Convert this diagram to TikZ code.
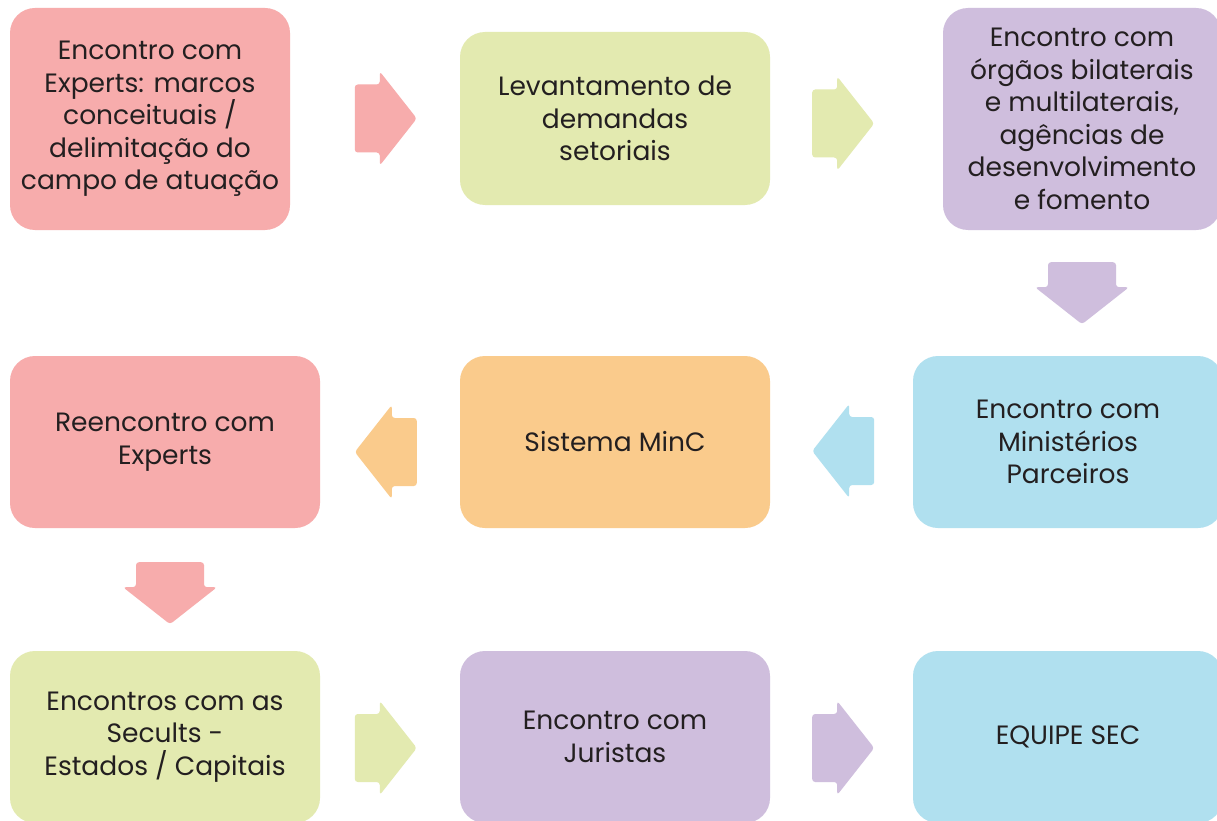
\documentclass[tikz,border=0pt]{standalone}
\usepackage{fontspec}
\setmainfont{Poppins}
\usetikzlibrary{calc}

\definecolor{pinkbox}{RGB}{247,172,172}
\definecolor{greenbox}{RGB}{227,234,176}
\definecolor{purplebox}{RGB}{207,190,221}
\definecolor{orangebox}{RGB}{250,203,140}
\definecolor{bluebox}{RGB}{176,224,239}
\definecolor{textgray}{RGB}{35,31,32}

\tikzset{
  stage/.style={rounded corners=25pt, inner sep=0pt, align=center, text=textgray,
    minimum width=310pt, minimum height=172pt,
    font=\fontsize{26.5}{32.5}\selectfont},
  blockarrow/.pic={
    \path[pic actions, rounded corners=3pt] (-31,-34) -- (-6,-34) -- (-6,-47) -- (31,0)
      -- (-6,47) -- (-6,34) -- (-31,34) -- cycle;
  }
}

\begin{document}
\begin{tikzpicture}[x=1pt, y=-1pt]

\path[use as bounding box, clip] (0,0) rectangle (1217,821);
\fill[white] (0,0) rectangle (1217,821);

\node[stage, fill=pinkbox, minimum width=280pt, minimum height=222pt] (expA) at (150,119)
  {Encontro com\\Experts: marcos\\conceituais /\\delimitação do\\campo de atuação};
\node[stage, fill=greenbox, minimum height=173pt] (demandas) at (615,118.5)
  {Levantamento de\\demandas\\setoriais};
\node[stage, fill=purplebox, minimum width=278pt, minimum height=222pt] (orgaos) at (1082,119)
  {Encontro com\\órgãos bilaterais\\e multilaterais,\\agências de\\desenvolvimento\\e fomento};

\node[stage, fill=pinkbox] (expB) at (165,442) {Reencontro com\\Experts};
\node[stage, fill=orangebox] (minc) at (615,442) {Sistema MinC};
\node[stage, fill=bluebox] (minist) at (1068,442) {Encontro com\\Ministérios\\Parceiros};

\node[stage, fill=greenbox] (secults) at (165,737) {Encontros com as\\Secults -\\Estados / Capitais};
\node[stage, fill=purplebox] (juristas) at (615,737) {Encontro com\\Juristas};
\node[stage, fill=bluebox] (equipe) at (1068,737) {EQUIPE SEC};

\pic[fill=pinkbox] at ($(demandas.west)+(-74,0)$) {blockarrow};
\pic[fill=greenbox] at ($(demandas.east)+(73,5)$) {blockarrow};
\pic[fill=purplebox, rotate=-90] at ($(orgaos.south)+(0,63)$) {blockarrow};
\pic[fill=bluebox, rotate=180] at ($(minc.east)+(73,9)$) {blockarrow};
\pic[fill=orangebox, rotate=180] at ($(minc.west)+(-74,10)$) {blockarrow};
\pic[fill=pinkbox, rotate=-90] at ($(expB.south)+(5,65)$) {blockarrow};
\pic[fill=greenbox] at ($(juristas.west)+(-74,11)$) {blockarrow};
\pic[fill=purplebox] at ($(juristas.east)+(73,11)$) {blockarrow};

\end{tikzpicture}
\end{document}
